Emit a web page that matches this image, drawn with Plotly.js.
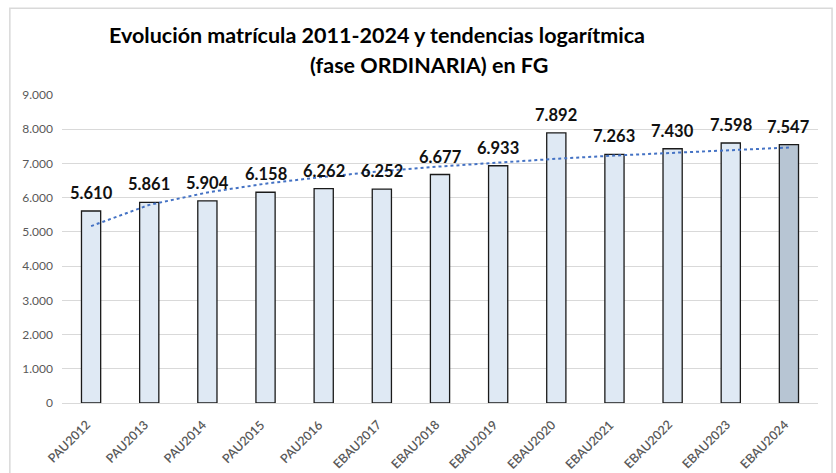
<!DOCTYPE html>
<html><head><meta charset="utf-8">
<script src="https://cdn.plot.ly/plotly-3.0.1.min.js"></script>
<style>html,body{margin:0;padding:0;background:#fff}#c{width:836px;height:473px}</style>
</head><body><div id="c"></div>
<script>
const categories = ["PAU2012","PAU2013","PAU2014","PAU2015","PAU2016","EBAU2017","EBAU2018","EBAU2019","EBAU2020","EBAU2021","EBAU2022","EBAU2023","EBAU2024"];
const matricula = [5610,5861,5904,6158,6262,6252,6677,6933,7892,7263,7430,7598,7547];
const yTicks = [0,1000,2000,3000,4000,5000,6000,7000,8000,9000];

function fmt(n){return String(n).replace(/\B(?=(\d{3})+(?!\d))/g,".");}

// logarithmic trendline (least squares on ln(index))
const lx = matricula.map((_,i)=>Math.log(i+1));
const mx = lx.reduce((a,b)=>a+b,0)/lx.length;
const my = matricula.reduce((a,b)=>a+b,0)/matricula.length;
let sxy=0,sxx=0;
lx.forEach((x,i)=>{sxy+=(x-mx)*(matricula[i]-my);sxx+=(x-mx)*(x-mx);});
const slope=sxy/sxx, icpt=my-slope*mx;
const trend = lx.map(x=>icpt+slope*x);

const fills = matricula.map((_,i)=> i===matricula.length-1 ? "#b7c5d3" : "#dfe9f4");
const font = "Lato, 'Open Sans', sans-serif";

const data = [
 {type:"bar", x:categories, y:matricula, marker:{color:fills, line:{color:"#1a1a1a", width:1.3}}, hoverinfo:"none"},
 {type:"scatter", mode:"lines", x:categories, y:trend, line:{color:"#4472c4", width:2, dash:"dot"}, hoverinfo:"none"}
];

const valueLabels = categories.map((c,i)=>({
  xref:"x", yref:"y", x:c, y:matricula[i], xanchor:"center", yanchor:"bottom", yshift:6, showarrow:false,
  text:fmt(matricula[i]), font:{family:font, size:16.5, color:"#111", weight:700}
}));
const catLabels = categories.map(c=>({
  xref:"x", yref:"y", x:c, y:0, xanchor:"right", yanchor:"top", xshift:5, yshift:-11, showarrow:false,
  textangle:-45, text:c, font:{family:font, size:12.5, color:"#595959", weight:600}
}));

const layout = {
 width:836, height:473, showlegend:false,
 paper_bgcolor:"#fff", plot_bgcolor:"#fff",
 margin:{l:62, r:18, t:95, b:70},
 bargap:0.67,
 font:{family:font, color:"#595959"},
 xaxis:{range:[-0.5, categories.length-0.5], autorange:false, showticklabels:false, showgrid:false, zeroline:false,
   showline:true, linecolor:"#d9d9d9", ticks:"", automargin:false},
 yaxis:{range:[0,9000], autorange:false, tickvals:yTicks, ticktext:yTicks.map(fmt), tickfont:{size:12, color:"#595959", family:font},
   gridcolor:"#d9d9d9", zeroline:false, ticks:"", ticklabelstandoff:8, automargin:false},
 shapes:[{type:"rect", xref:"paper", yref:"paper", x0:-0.069, x1:1.0186, y0:-0.3, y1:1.282, line:{color:"#d9d9d9", width:1.5}, fillcolor:"rgba(0,0,0,0)"}],
 annotations:[
  {xref:"paper", yref:"paper", x:0.4165, y:1.195, xanchor:"center", yanchor:"middle", showarrow:false,
   text:"Evolución matrícula 2011-2024 y tendencias logarítmica", font:{family:font, size:21.5, color:"#000", weight:700}},
  {xref:"paper", yref:"paper", x:0.485, y:1.097, xanchor:"center", yanchor:"middle", showarrow:false,
   text:"(fase ORDINARIA) en FG", font:{family:font, size:21.5, color:"#000", weight:700}}
 ].concat(valueLabels, catLabels)
};
Plotly.newPlot("c", data, layout, {displayModeBar:false, staticPlot:true});
</script></body></html>
